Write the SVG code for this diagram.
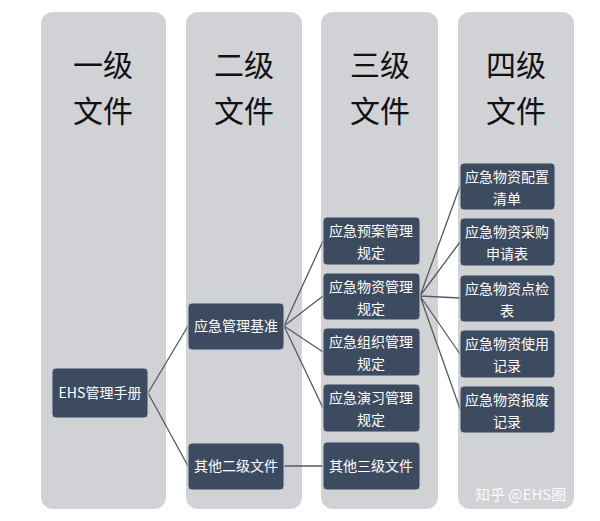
<svg xmlns="http://www.w3.org/2000/svg" width="600" height="521" viewBox="0 0 600 521">
<style>
.col{fill:#d1d2d6}
.n{fill:#3d4b61;stroke:#c9ccd2;stroke-width:1}
.t{font-family:"Noto Sans CJK SC","Liberation Sans",sans-serif;font-size:14px;fill:#fff;text-anchor:middle}
.h{font-family:"Noto Sans CJK SC",sans-serif;font-size:30px;fill:#111;text-anchor:middle}
.c{stroke:#555a63;stroke-width:1.3;fill:none}
</style>
<rect width="600" height="521" fill="#fff"/>
<g id="columns">
<rect class="col" x="41" y="12" width="125" height="497" rx="12"/>
<rect class="col" x="186" y="12" width="116" height="497" rx="12"/>
<rect class="col" x="321" y="12" width="117" height="497" rx="12"/>
<rect class="col" x="458" y="12" width="116" height="497" rx="12"/>
<text class="h" x="103" y="76">一级</text><text class="h" x="103" y="122">文件</text>
<text class="h" x="244" y="76">二级</text><text class="h" x="244" y="122">文件</text>
<text class="h" x="380" y="76">三级</text><text class="h" x="380" y="122">文件</text>
<text class="h" x="516" y="76">四级</text><text class="h" x="516" y="122">文件</text>
</g>
<g id="connectors">
<path class="c" d="M148 393L188 326M148 393L188 466M284 326L323 241M284 326L323 296M284 326L323 352M284 326L323 408M284 466L323 466M420 296L460 186M420 296L460 242M420 296L460 298M420 296L460 354M420 296L460 409"/>
</g>
<g id="n1"><rect class="n" x="52" y="368" width="96" height="50" rx="4"/><text class="t" x="100" y="398">EHS管理手册</text></g>
<g id="n2"><rect class="n" x="188" y="303" width="96" height="47" rx="4"/><text class="t" x="236" y="331">应急管理基准</text></g>
<g id="n3"><rect class="n" x="188" y="443" width="96" height="47" rx="4"/><text class="t" x="236" y="471">其他二级文件</text></g>
<g id="n4"><rect class="n" x="323" y="217" width="97" height="48" rx="4"/><text class="t" x="371" y="236">应急预案管理</text><text class="t" x="371" y="258">规定</text></g>
<g id="n5"><rect class="n" x="323" y="273" width="97" height="47" rx="4"/><text class="t" x="371" y="292">应急物资管理</text><text class="t" x="371" y="314">规定</text></g>
<g id="n6"><rect class="n" x="323" y="328" width="97" height="48" rx="4"/><text class="t" x="371" y="347">应急组织管理</text><text class="t" x="371" y="369">规定</text></g>
<g id="n7"><rect class="n" x="323" y="384" width="97" height="48" rx="4"/><text class="t" x="371" y="403">应急演习管理</text><text class="t" x="371" y="425">规定</text></g>
<g id="n8"><rect class="n" x="323" y="442" width="97" height="48" rx="4"/><text class="t" x="371" y="471">其他三级文件</text></g>
<g id="n9"><rect class="n" x="460" y="163" width="95" height="47" rx="4"/><text class="t" x="507" y="182">应急物资配置</text><text class="t" x="507" y="204">清单</text></g>
<g id="n10"><rect class="n" x="460" y="218" width="95" height="48" rx="4"/><text class="t" x="507" y="237">应急物资采购</text><text class="t" x="507" y="259">申请表</text></g>
<g id="n11"><rect class="n" x="460" y="275" width="95" height="47" rx="4"/><text class="t" x="507" y="294">应急物资点检</text><text class="t" x="507" y="316">表</text></g>
<g id="n12"><rect class="n" x="460" y="330" width="95" height="48" rx="4"/><text class="t" x="507" y="349">应急物资使用</text><text class="t" x="507" y="371">记录</text></g>
<g id="n13"><rect class="n" x="460" y="386" width="95" height="47" rx="4"/><text class="t" x="507" y="405">应急物资报废</text><text class="t" x="507" y="427">记录</text></g>
<text x="475" y="500" font-family="Noto Sans CJK SC,sans-serif" font-size="15" fill="#fff" opacity="0.9">知乎 @EHS圈</text>
</svg>
